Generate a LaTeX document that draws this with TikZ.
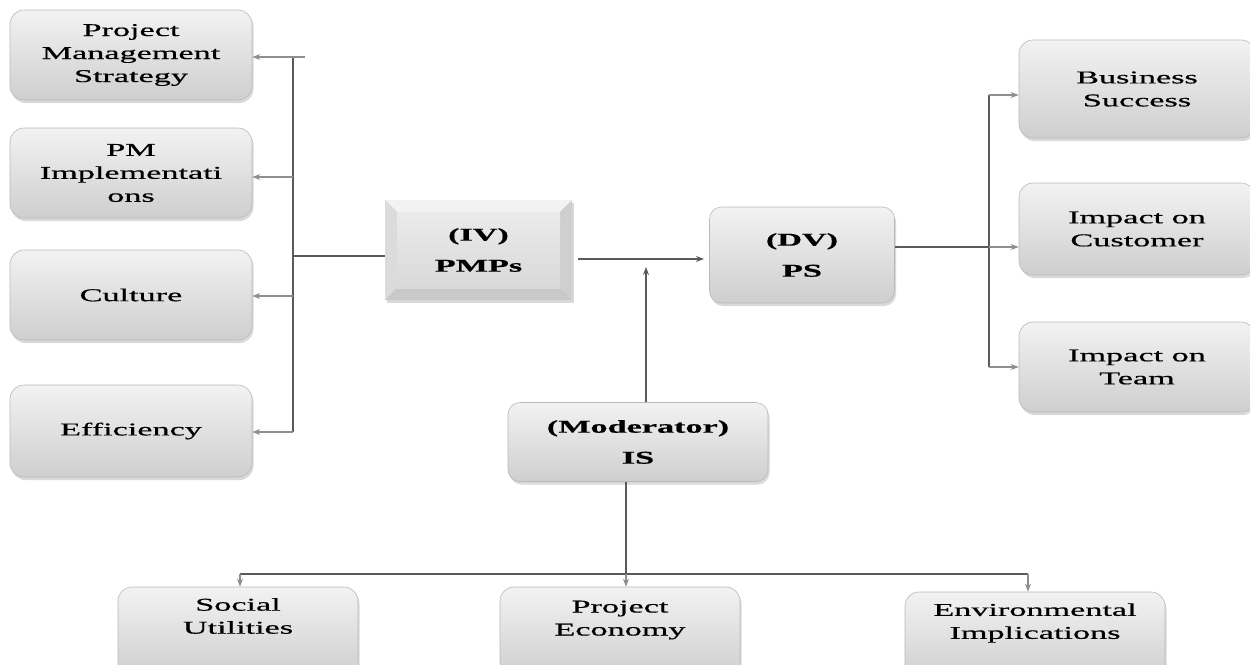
\documentclass[tikz,border=0pt]{standalone}
\usepackage{fontspec}
\setmainfont[FakeStretch=1.9,FakeBold=0.6]{Liberation Serif}
\usetikzlibrary{arrows.meta,shadows}
\definecolor{lineDark}{HTML}{5A5A5A}
\definecolor{lineLight}{HTML}{8E8E8E}
\begin{document}
\begin{tikzpicture}[x=1pt,y=-1pt,
  box/.style={rounded corners=14pt, top color=gray!10, bottom color=gray!38,
    draw=gray!55, line width=0.6pt,
    drop shadow={shadow xshift=1.5pt,shadow yshift=-3pt,opacity=0.3},
    align=center, inner sep=0pt},
  boxtxt/.style={align=center, font=\fontsize{18}{23}\selectfont, inner sep=0pt},
  boldtxt/.style={align=center, font=\fontsize{18}{31}\selectfont\bfseries, inner sep=0pt},
  main/.style={draw=lineDark, line width=1.4pt},
  sub/.style={draw=lineLight, line width=1.2pt},
  tip/.style={-{Stealth[length=8pt,width=6pt]}},
]
\useasboundingbox (0,0) rectangle (1250,664);

% left boxes
\node[box, boxtxt, minimum width=242pt, minimum height=90pt] (pms) at (131,55) {Project\\Management\\Strategy};
\node[box, boxtxt, minimum width=242pt, minimum height=90pt] (pmi) at (131,173) {PM\\Implementati\\ons};
\node[box, boxtxt, minimum width=242pt, minimum height=90pt] (cul) at (131,295) {Culture};
\node[box, boxtxt, minimum width=242pt, minimum height=92pt] (eff) at (131,431) {Efficiency};

% PMPs bevel box
\fill[gray!32, drop shadow={shadow xshift=1.5pt,shadow yshift=-3pt,opacity=0.3}] (385,200) rectangle (572,300);
\fill[gray!10] (385,200) -- (572,200) -- (560,212) -- (397,212) -- cycle;
\fill[gray!28] (385,200) -- (397,212) -- (397,288) -- (385,300) -- cycle;
\fill[gray!38] (572,200) -- (560,212) -- (560,288) -- (572,300) -- cycle;
\fill[gray!42] (385,300) -- (397,288) -- (560,288) -- (572,300) -- cycle;
\shade[top color=gray!16, bottom color=gray!30] (397,212) rectangle (560,288);
\node[boldtxt, minimum width=187pt, minimum height=100pt] (pm) at (478.5,250) {(IV)\\PMPs};

% PS box
\node[box, rounded corners=12pt, boldtxt, minimum width=185pt, minimum height=96pt] (ps) at (802,255) {(DV)\\PS};

% IS box
\node[box, rounded corners=12pt, boldtxt, minimum width=260pt, minimum height=79pt] (is) at (638,442) {(Moderator)\\IS};

% right boxes
\node[box, boxtxt, minimum width=236pt, minimum height=98pt] (bs) at (1137,89) {Business\\Success};
\node[box, boxtxt, minimum width=236pt, minimum height=92pt] (ic) at (1137,229) {Impact on\\Customer};
\node[box, boxtxt, minimum width=236pt, minimum height=90pt] (it) at (1137,367) {Impact on\\Team};

% bottom boxes
\node[box, minimum width=240pt, minimum height=90pt] (su) at (238,632) {};
\node[boxtxt] (sut) at (238,616) {Social\\Utilities};
\node[box, minimum width=240pt, minimum height=90pt] (pe) at (620,632) {};
\node[boxtxt] (pet) at (620,620) {Project\\Economy};
\node[box, minimum width=260pt, minimum height=90pt] (ei) at (1035,637) {};
\node[boxtxt] (eit) at (1035,623) {Environmental\\Implications};

% left connector tree
\coordinate (lt) at (293,57);
\coordinate (lte) at (305,57);
\coordinate (l2) at (293,177);
\coordinate (l3) at (293,296);
\coordinate (lb) at (293,432);
\coordinate (lm) at (293,256);
\draw[main] (lt) -- (lb);
\draw[sub] (lte) -- (lt);
\draw[sub, tip] (lt) -- (lt -| pms.east);
\draw[sub, tip] (l2) -- (l2 -| pmi.east);
\draw[sub, tip] (l3) -- (l3 -| cul.east);
\draw[sub, tip] (lb) -- (lb -| eff.east);
\draw[main] (lm) -- (lm -| pm.west);

% PMPs -> PS
\coordinate (a1) at (578,259);
\coordinate (a2) at (704,259);
\draw[main, tip] (a1) -- (a2);

% IS -> arrow
\coordinate (up) at (646,267);
\draw[main, tip] (up |- is.north) -- (up);

% PS right tree
\coordinate (rt) at (989,95);
\coordinate (rm) at (989,247);
\coordinate (rb) at (989,367);
\draw[main] (rm -| ps.east) -- (rm);
\draw[main] (rt) -- (rb);
\draw[sub, tip] (rt) -- (rt -| bs.west);
\draw[sub, tip] (rm) -- (rm -| ic.west);
\draw[sub, tip] (rb) -- (rb -| it.west);

% bottom tree
\coordinate (bd) at (626,574);
\coordinate (bl) at (240,574);
\coordinate (br) at (1028,574);
\draw[main] (bd |- is.south) -- (bd);
\draw[main] (bl) -- (br);
\draw[sub, tip] (bl) -- (bl |- su.north);
\draw[sub, tip] (bd) -- (bd |- pe.north);
\draw[sub, tip] (br) -- (br |- ei.north);
\end{tikzpicture}
\end{document}
